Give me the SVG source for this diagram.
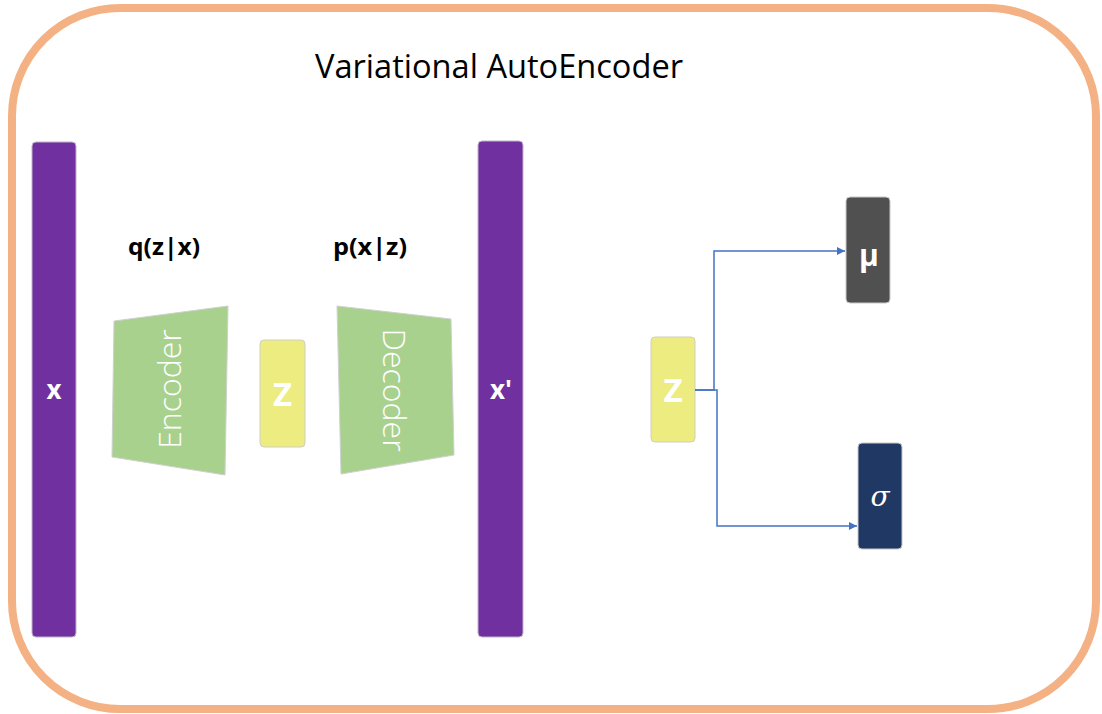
<svg xmlns="http://www.w3.org/2000/svg" width="1102" height="714" viewBox="0 0 1102 714">
  <style>
    .frame { fill: #ffffff; stroke: #F4B183; stroke-width: 8; }
    .bar { fill: #7030A0; stroke: #BFB3C9; stroke-width: 1; }
    .coder { fill: #A9D18E; stroke: #D0D0D0; stroke-width: 1; }
    .latent { fill: #EDEC80; stroke: #CFCFC0; stroke-width: 1; }
    .mu { fill: #505050; stroke: #C8C8C8; stroke-width: 1; }
    .sigma { fill: #203864; stroke: #C8C8C8; stroke-width: 1; }
    .title { font-family: "Open Sans", "Liberation Sans", sans-serif; font-size: 32px; fill: #000000; }
    .dist { font-family: "Open Sans", "Liberation Sans", sans-serif; font-size: 24px; font-weight: bold; fill: #000000; }
    .lbl { font-family: "Open Sans", "Liberation Sans", sans-serif; font-weight: bold; fill: #ffffff; }
    .coder-lbl { font-family: "Open Sans", "Liberation Sans", sans-serif; font-weight: 300; font-size: 32px; fill: #ffffff; }
    .greek { font-family: "DejaVu Serif", "Liberation Serif", serif; font-style: italic; font-size: 28px; fill: #ffffff; }
    .wire { fill: none; stroke: #4472C4; stroke-width: 1.5; }
  </style>
  <defs>
    <marker id="arrow" viewBox="0 0 10 10" refX="10" refY="5" markerWidth="8" markerHeight="8" markerUnits="userSpaceOnUse" orient="auto">
      <path d="M0,0 L10,5 L0,10 Z" fill="#4472C4"/>
    </marker>
  </defs>

  <!-- outer frame -->
  <rect class="frame" x="12" y="8" width="1084" height="701" rx="108" ry="108"/>
  <text class="title" x="499" y="78" text-anchor="middle" textLength="368" lengthAdjust="spacingAndGlyphs">Variational AutoEncoder</text>

  <g id="input-x">
    <rect class="bar" x="32" y="142" width="44" height="495" rx="4"/>
    <text class="lbl" x="54" y="399" font-size="26" text-anchor="middle">x</text>
  </g>

  <g id="label-q">
    <text class="dist" x="164" y="255" text-anchor="middle" textLength="72" lengthAdjust="spacingAndGlyphs">q(z|x)</text>
  </g>

  <g id="encoder">
    <polygon class="coder" points="114,321 228,306 225,475 112,457"/>
    <text class="coder-lbl" transform="translate(181,389) rotate(-90)" text-anchor="middle">Encoder</text>
  </g>

  <g id="latent-z">
    <rect class="latent" x="260" y="340" width="45" height="107" rx="4"/>
    <text class="lbl" x="282.5" y="406" font-size="33" text-anchor="middle">Z</text>
  </g>

  <g id="label-p">
    <text class="dist" x="370" y="255" text-anchor="middle" textLength="74" lengthAdjust="spacingAndGlyphs">p(x|z)</text>
  </g>

  <g id="decoder">
    <polygon class="coder" points="337,306 451,319 454,455 341,474"/>
    <text class="coder-lbl" transform="translate(383,390) rotate(90)" text-anchor="middle">Decoder</text>
  </g>

  <g id="output-x">
    <rect class="bar" x="478" y="141" width="45" height="496" rx="4"/>
    <text class="lbl" x="501" y="399" font-size="26" text-anchor="middle">x'</text>
  </g>

  <g id="sample-z">
    <rect class="latent" x="651" y="337" width="44" height="105" rx="4"/>
    <text class="lbl" x="673" y="402" font-size="33" text-anchor="middle">Z</text>
  </g>

  <g id="mean-mu">
    <rect class="mu" x="846" y="197" width="44" height="106" rx="4"/>
    <text class="lbl" x="869" y="266" font-size="30" text-anchor="middle">μ</text>
  </g>

  <g id="std-sigma">
    <rect class="sigma" x="858" y="443" width="44" height="106" rx="4"/>
    <text class="greek" x="880" y="506" text-anchor="middle">σ</text>
  </g>

  <g id="connectors">
    <polyline class="wire" points="695,390 714,390 714,251 845,251" marker-end="url(#arrow)"/>
    <polyline class="wire" points="695,390 717,390 717,526 857,526" marker-end="url(#arrow)"/>
  </g>
</svg>
